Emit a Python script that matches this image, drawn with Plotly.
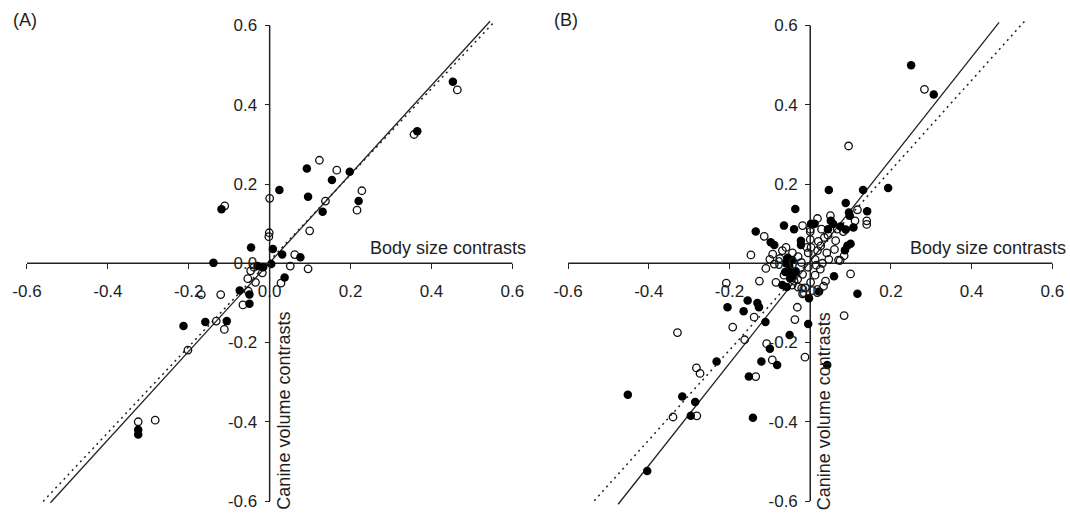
import plotly.graph_objects as go

# ---------------- data ----------------
# Panel A
a_filled_x = [0.453, 0.365, 0.092, 0.198, 0.154, 0.024, 0.095, 0.22, -0.119, 0.131,
              -0.046, 0.008, 0.031, 0.076, -0.139, -0.03, -0.016, 0.004, -0.074, -0.05,
              -0.05, 0.037, -0.213, -0.159, -0.106, -0.325, -0.325]
a_filled_y = [0.458, 0.333, 0.239, 0.231, 0.21, 0.185, 0.168, 0.157, 0.1365, 0.13,
              0.04, 0.036, 0.022, 0.015, 0.001, -0.007, -0.01, -0.002, -0.069, -0.079,
              -0.102, -0.036, -0.158, -0.148, -0.146, -0.42, -0.432]
a_open_x = [0.464, 0.357, 0.123, 0.166, 0.228, 0.0, 0.138, -0.111, 0.216, 0.099,
            -0.001, -0.002, 0.062, 0.051, 0.095, -0.047, -0.039, -0.018, -0.054, -0.035,
            0.028, -0.053, -0.066, -0.169, -0.121, -0.132, -0.112, -0.202, -0.325, -0.283]
a_open_y = [0.4375, 0.325, 0.26, 0.235, 0.183, 0.164, 0.157, 0.145, 0.134, 0.082,
            0.077, 0.067, 0.022, -0.007, -0.014, -0.019, -0.01, -0.024, -0.039, -0.048,
            -0.05, -0.07, -0.105, -0.079, -0.079, -0.146, -0.167, -0.219, -0.4, -0.396]

# Panel B
b_filled_x = [0.25, 0.306, 0.046, 0.131, 0.193, -0.037, 0.088, 0.096, 0.141, 0.107,
              0.051, 0.044, 0.092, 0.086, 0.059, 0.117, 0.002, 0.011, -0.023, -0.023,
              -0.04, -0.065, -0.135, -0.098, -0.089, -0.052, -0.048, -0.056, -0.044, -0.069,
              -0.058, 0.022, -0.003, -0.005, -0.051, 0.042, -0.142, -0.155, -0.131, -0.127,
              -0.205, -0.165, -0.111, -0.1, -0.232, -0.121, -0.082, -0.152, -0.452, -0.317,
              -0.285, -0.296, -0.404, 0.098, 0.088, 0.075, 0.057, 0.1, -0.06, -0.045,
              -0.036, -0.062, -0.05]
b_filled_y = [0.5, 0.426, 0.185, 0.185, 0.19, 0.137, 0.152, 0.128, 0.131, 0.09,
              0.107, 0.086, 0.044, 0.033, -0.033, -0.077, 0.1, 0.1, 0.057, 0.046,
              0.086, 0.095, 0.08, 0.053, 0.046, -0.006, -0.019, 0.014, -0.032, -0.055,
              -0.06, -0.071, -0.088, -0.153, -0.181, -0.257, -0.39, -0.094, -0.1, -0.111,
              -0.111, -0.121, -0.148, -0.216, -0.248, -0.248, -0.257, -0.286, -0.332, -0.336,
              -0.35, -0.385, -0.524, 0.12, 0.085, 0.093, 0.099, 0.049, 0.0, 0.008,
              -0.02, -0.022, -0.038]
b_open_x = [0.283, 0.095, 0.117, 0.14, 0.14, 0.111, 0.05, 0.067, 0.063, 0.084,
            0.07, 0.1, 0.084, 0.018, 0.028, 0.0, 0.0, -0.019, -0.114, -0.147,
            -0.093, -0.069, -0.044, -0.03, -0.005, 0.018, 0.026, 0.041, 0.046, 0.012,
            -0.022, -0.11, -0.089, -0.031, -0.019, -0.085, -0.045, -0.03, 0.001, 0.006,
            -0.019, -0.012, 0.033, 0.012, 0.025, -0.032, -0.038, -0.013, -0.126, -0.208,
            -0.139, -0.192, -0.329, -0.1625, -0.108, -0.094, -0.282, -0.273, -0.135, -0.34,
            -0.281, 0.06, 0.035, -0.008, -0.06, -0.075, -0.1, 0.02, 0.015, -0.005,
            -0.065, 0.038, 0.082, 0.044, 0.002, 0.03, 0.074, -0.04, -0.021, 0.0]
b_open_y = [0.439, 0.296, 0.135, 0.107, 0.098, 0.107, 0.12, 0.086, 0.057, 0.019,
            0.008, -0.027, -0.132, 0.113, 0.086, 0.086, 0.06, 0.095, 0.068, 0.021,
            0.023, 0.032, 0.026, 0.017, 0.026, 0.032, 0.044, 0.026, 0.01, 0.01,
            0.002, -0.013, -0.002, -0.04, -0.028, -0.048, -0.055, -0.06, -0.048, -0.069,
            -0.077, -0.062, -0.058, -0.03, -0.015, -0.111, -0.142, -0.237, -0.045, -0.05,
            -0.136, -0.161, -0.175, -0.193, -0.203, -0.244, -0.264, -0.278, -0.286, -0.388,
            -0.385, 0.035, 0.065, 0.04, 0.04, 0.012, 0.01, 0.055, -0.005, -0.01,
            -0.03, -0.045, 0.08, 0.071, 0.04, 0.0, 0.007, -0.045, -0.063, 0.08]

# fitted lines: slope, intercept, x extent
a_solid = dict(slope=1.118, intercept=0.0015, x=[-0.542, 0.545])
a_dotted = dict(slope=1.085, intercept=0.0066, x=[-0.56, 0.557])
b_solid = dict(slope=1.288, intercept=0.005, x=[-0.476, 0.468])
b_dotted = dict(slope=1.135, intercept=0.008, x=[-0.535, 0.532])

tick_vals = [-0.6, -0.4, -0.2, 0.0, 0.2, 0.4, 0.6]
tick_text = ["-0.6", "-0.4", "-0.2", "0.0", "0.2", "0.4", "0.6"]
panel_labels = ["(A)", "(B)"]
x_title = "Body size contrasts"
y_title = "Canine volume contrasts"

# ---------------- layout geometry ----------------
W, H = 1070, 514
XR = 0.63
YR_LO, YR_HI = -0.62, 0.63
FONT = "Liberation Sans, Arial, sans-serif"
TXT = "#1e1e1e"
FS = 17

def px_x(p):
    return p / W

def px_y(p):
    return 1 - p / H

# panel pixel geometry: centre (x0 pixel), px per unit
panels = [dict(cx=267.4, sx=405.6), dict(cx=809.5, sx=404.7)]
cy, sy = 264.3, 397.8
ydom = [max(0.0, px_y(cy - YR_LO * sy)), min(1.0, px_y(cy - YR_HI * sy))]

fig = go.Figure()

def fit_line(d):
    xs = d["x"]
    ys = [d["slope"] * v + d["intercept"] for v in xs]
    return xs, ys

data_sets = [
    (a_filled_x, a_filled_y, a_open_x, a_open_y, a_solid, a_dotted),
    (b_filled_x, b_filled_y, b_open_x, b_open_y, b_solid, b_dotted),
]

for i, (fx, fy, ox, oy, sl, dl) in enumerate(data_sets):
    xa = "x" if i == 0 else "x2"
    ya = "y" if i == 0 else "y2"
    lx, ly = fit_line(dl)
    fig.add_trace(go.Scatter(x=lx, y=ly, mode="lines", xaxis=xa, yaxis=ya,
                             line=dict(color="#222", width=1.5, dash="2px,4px"),
                             showlegend=False, hoverinfo="skip"))
    lx, ly = fit_line(sl)
    fig.add_trace(go.Scatter(x=lx, y=ly, mode="lines", xaxis=xa, yaxis=ya,
                             line=dict(color="#222", width=1.3),
                             showlegend=False, hoverinfo="skip"))
    fig.add_trace(go.Scatter(x=ox, y=oy, mode="markers", xaxis=xa, yaxis=ya,
                             marker=dict(symbol="circle-open", size=7.5, color="#111",
                                         line=dict(width=1.3, color="#111")),
                             showlegend=False))
    fig.add_trace(go.Scatter(x=fx, y=fy, mode="markers", xaxis=xa, yaxis=ya,
                             marker=dict(symbol="circle", size=8.5, color="#000",
                                         line=dict(width=0)),
                             showlegend=False))

axis_common = dict(showgrid=False, zeroline=False, showline=False,
                   tickvals=tick_vals, ticktext=tick_text, ticks="outside",
                   ticklen=5, tickwidth=1.3, tickcolor="#222",
                   tickfont=dict(family=FONT, size=FS, color=TXT),
                   fixedrange=True)

layout_axes = {}
for i, p in enumerate(panels):
    xdom = [px_x(p["cx"] - XR * p["sx"]), px_x(p["cx"] + XR * p["sx"])]
    suffix = "" if i == 0 else "2"
    layout_axes["xaxis" + suffix] = dict(axis_common, range=[-XR, XR], domain=xdom,
                                         anchor="free", position=px_y(cy),
                                         ticklabelstandoff=7)
    layout_axes["yaxis" + suffix] = dict(axis_common, range=[YR_LO, YR_HI], domain=ydom,
                                         anchor="free", position=px_x(p["cx"]),
                                         ticklabelstandoff=4)

fig.update_layout(width=W, height=H, margin=dict(l=0, r=0, t=0, b=0),
                  paper_bgcolor="white", plot_bgcolor="white",
                  font=dict(family=FONT, color=TXT), **layout_axes)

shapes = []
annotations = []
for i, p in enumerate(panels):
    xr = "x" if i == 0 else "x2"
    yr = "y" if i == 0 else "y2"
    shapes.append(dict(type="line", xref=xr, yref=yr, x0=-0.6, x1=0.6, y0=0, y1=0,
                       line=dict(color="#222", width=1.5), layer="below"))
    shapes.append(dict(type="line", xref=xr, yref=yr, x0=0, x1=0, y0=-0.6, y1=0.6,
                       line=dict(color="#222", width=1.5), layer="below"))
    right_edge = p["cx"] + 0.6 * p["sx"] + 16
    annotations.append(dict(text=x_title, xref="paper", yref="paper",
                            x=px_x(right_edge), y=px_y(249), xanchor="right",
                            yanchor="middle", showarrow=False,
                            font=dict(family=FONT, size=FS + 1, color=TXT)))
    annotations.append(dict(text=y_title, xref="paper", yref="paper", textangle=-90,
                            x=px_x(p["cx"] + 2), y=px_y(514), xanchor="left",
                            yanchor="bottom", showarrow=False,
                            font=dict(family=FONT, size=FS + 1, color=TXT)))
    annotations.append(dict(text=panel_labels[i], xref="paper", yref="paper",
                            x=px_x(p["cx"] - 259), y=px_y(8), xanchor="left",
                            yanchor="top", showarrow=False,
                            font=dict(family=FONT, size=FS + 1, color=TXT)))

fig.update_layout(shapes=shapes, annotations=annotations)
fig.write_html("out.html", config={"displayModeBar": False},
               post_script="document.body.style.margin='0px';document.body.style.overflow='hidden';")
